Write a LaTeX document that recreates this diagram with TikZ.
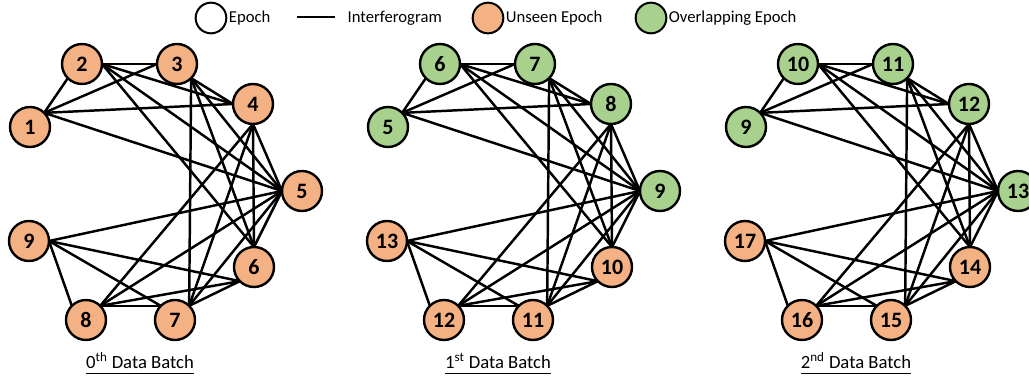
\documentclass[tikz,border=0pt]{standalone}
\usepackage{fontspec}
\setmainfont{Carlito}
\usepackage{tikz}
\usetikzlibrary{backgrounds}
\usepackage{xcolor}
\definecolor{unseen}{HTML}{F4B183}
\definecolor{overlap}{HTML}{A9D18E}

\begin{document}
\begin{tikzpicture}[x=0.75pt,y=-0.75pt,
  epoch/.style={circle,draw=black,line width=1.8pt,minimum size=30pt,inner sep=0pt,outer sep=0pt,font=\bfseries\fontsize{16.5}{19}\selectfont},
  legdot/.style={circle,draw=black,line width=1.5pt,minimum size=23pt,inner sep=0pt},
  legtext/.style={anchor=west,inner sep=1pt,font=\fontsize{12.5}{15}\selectfont},
  ifg/.style={line width=1.85pt},
  batch/.style={anchor=base,inner sep=0pt,font=\fontsize{14}{16}\selectfont}]
\useasboundingbox (0,0) rectangle (1029,378);

% legend
\node[legdot,fill=white] (kEpoch) at (211,18) {};
\node[legtext] (tEpoch) at (kEpoch.east) {Epoch};
\coordinate (ifgA) at (297,17);
\coordinate (ifgB) at (335,17);
\draw[ifg,line width=1.5pt] (ifgA) -- (ifgB);
\node[legtext] (tIfg) at (346,18) {Interferogram};
\node[legdot,fill=unseen] (kUnseen) at (488,18) {};
\node[legtext] (tUnseen) at (kUnseen.east) {Unseen Epoch};
\node[legdot,fill=overlap] (kOverlap) at (651,18) {};
\node[legtext] (tOverlap) at (kOverlap.east) {Overlapping Epoch};

% epochs of the three batches
\foreach \b in {0,1,2}{
  \foreach \p/\x/\y in {0/30/127,1/82/64,2/177/64,3/253/104,4/302/191,5/254/267,6/175/320,7/86/320,8/29/241}{
    \pgfmathtruncatemacro{\num}{4*\b+\p+1}
    \ifnum\b>0 \ifnum\p<5 \def\epfill{overlap}\else\def\epfill{unseen}\fi \else\def\epfill{unseen}\fi
    \node[epoch,fill=\epfill] (b\b e\p) at (\x+358*\b,\y) {\num};
  }
}

% interferograms: each epoch to the next four
\begin{pgfonlayer}{background}
\foreach \b in {0,1,2}{
  \foreach \i/\oa in {0/north east,1/east,2/south east,3/south,4/west,5/south west,6/north west,7/north west}{
    \foreach \j/\ia in {1/south west,2/west,3/west,4/west,5/north,6/north east,7/north east,8/east}{
      \ifnum\j>\i \ifnum\j<\numexpr\i+5\relax
        \draw[ifg] (b\b e\i.\oa) -- (b\b e\j.\ia);
      \fi\fi
    }
  }
}
\end{pgfonlayer}

% batch labels
\node[batch] (lab0) at (140,368) {0\textsuperscript{th} Data Batch};
\node[batch] (lab1) at (498,368) {1\textsuperscript{st} Data Batch};
\node[batch] (lab2) at (856,368) {2\textsuperscript{nd} Data Batch};
\foreach \k in {0,1,2}
  \draw[line width=1.1pt] ([yshift=-4pt]lab\k.base west) -- ([yshift=-4pt]lab\k.base east);
\end{tikzpicture}
\end{document}
